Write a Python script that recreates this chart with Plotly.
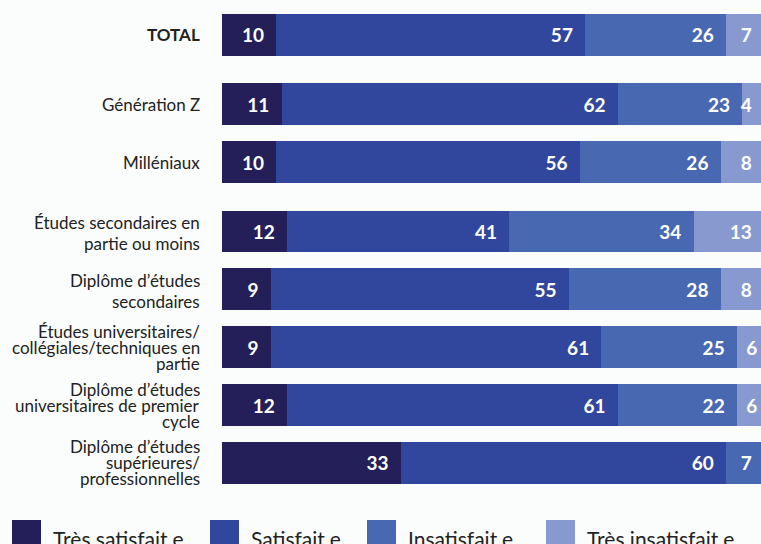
import plotly.graph_objects as go

categories = [
    "<b>TOTAL</b>",
    "Génération Z",
    "Milléniaux",
    "Études secondaires en<br>partie ou moins",
    "Diplôme d’études<br>secondaires",
    "Études universitaires/<br>collégiales/techniques en<br>partie",
    "Diplôme d’études<br>universitaires de premier<br>cycle",
    "Diplôme d’études<br>supérieures/<br>professionnelles",
]
# group index per row: TOTAL / generations / education
groups = [0, 1, 1, 2, 2, 2, 2, 2]

series_names = ["Très satisfait.e", "Satisfait.e", "Insatisfait.e", "Très insatisfait.e"]
tres_satisfait = [10, 11, 10, 12, 9, 9, 12, 33]
satisfait = [57, 62, 56, 41, 55, 61, 61, 60]
insatisfait = [26, 23, 26, 34, 28, 25, 22, 7]
tres_insatisfait = [7, 4, 8, 13, 8, 6, 6, 0]

colors = ["#241f58", "#31479d", "#4868b2", "#8799cf"]
values = [tres_satisfait, satisfait, insatisfait, tres_insatisfait]

group_gap = 0.2
ypos = [i + g * group_gap for i, g in enumerate(groups)]

fig = go.Figure()
for name, vals, col in zip(series_names, values, colors):
    fig.add_trace(go.Bar(
        name=name,
        y=ypos,
        x=vals,
        orientation="h",
        marker=dict(color=col, line=dict(width=0)),
        width=0.725,
        text=[f"{v}\u00a0\u00a0" if v else "" for v in vals],
        textposition="inside",
        insidetextanchor="end",
        textfont=dict(family="Lato", size=19, color="white", weight="bold"),
        showlegend=False,
    ))

# the figure is a little wider than the 761px window: the right end is cut like the source
W, H, L = 764, 544, 222
plot_w = W - L
plot_h = 500

# category labels, one annotation per line so the line spacing can be tight
label_font = dict(family="Lato", size=17, color="#222222")
for y, label in zip(ypos, categories):
    lines = label.split("<br>")
    step = 21 if len(lines) == 2 else 16
    mid = (len(lines) - 1) / 2
    for k, line in enumerate(lines):
        fig.add_annotation(text=line, xref="paper", yref="y",
                           x=(202 - L) / plot_w, y=y,
                           yshift=-(k - mid) * step - (2 if len(lines) == 2 else 0),
                           xanchor="right", yanchor="middle", showarrow=False,
                           font=label_font)

# legend drawn by hand (large squares, clipped at bottom like the source)
legend_x = [12, 210, 367, 546]
for name, col, px in zip(series_names, colors, legend_x):
    fig.add_shape(type="rect", xref="paper", yref="paper",
                  x0=(px - L) / plot_w, x1=(px + 29 - L) / plot_w,
                  y0=(plot_h - 548) / plot_h, y1=(plot_h - 520) / plot_h,
                  fillcolor=col, line=dict(width=0))
    fig.add_annotation(text=name, xref="paper", yref="paper",
                       x=(px + 39 - L) / plot_w, y=(plot_h - 538) / plot_h,
                       xanchor="left", yanchor="middle", showarrow=False,
                       font=dict(family="Lato", size=21, color="#222222"))

fig.update_layout(
    width=W, height=H,
    barmode="stack",
    margin=dict(l=L, r=0, t=0, b=H - plot_h, pad=0),
    paper_bgcolor="#fbfdfd",
    plot_bgcolor="#fbfdfd",
    uniformtext=dict(minsize=19, mode="show"),
    font=dict(family="Lato", color="#222222"),
)
fig.update_xaxes(range=[0, 100], visible=False, showgrid=False, zeroline=False)
fig.update_yaxes(
    range=[ypos[-1] + 0.64, -0.6],
    showticklabels=False,
    showgrid=False, zeroline=False, showline=False,
    ticks="",
)

fig.write_html(
    "out.html",
    config={"displayModeBar": False},
    post_script="document.body.style.margin='0';document.body.style.overflow='hidden';",
)
